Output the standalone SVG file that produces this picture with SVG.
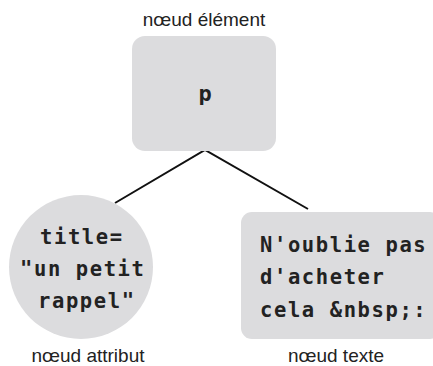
<svg xmlns="http://www.w3.org/2000/svg" width="433" height="366" viewBox="0 0 433 366">
<style>
.shape{fill:#dcdcde;stroke:none}
.lbl{font-family:"Liberation Sans",Arial,sans-serif;font-size:19px;fill:#222;text-anchor:middle}
.code{font-family:"DejaVu Sans Mono",monospace;font-weight:bold;font-size:20.5px;fill:#222;letter-spacing:1.6px}
.edge{stroke:#111;stroke-width:2;fill:none}
</style>
<rect width="433" height="366" fill="#fff"/>
<g id="connectors">
<polyline class="edge" points="115,203 205,150 308,209"/>
</g>
<g id="element">
<text class="lbl" x="204" y="26">nœud élément</text>
<rect class="shape" x="132" y="36" width="144" height="115" rx="13"/>
<text class="code" x="205" y="101" text-anchor="middle" style="font-size:22px;letter-spacing:0">p</text>
</g>
<g id="attribut">
<circle class="shape" cx="81" cy="267" r="72"/>
<text class="code" x="40" y="244">title=</text>
<text class="code" x="20" y="276">"un petit</text>
<text class="code" x="38" y="308">rappel"</text>
<text class="lbl" x="88" y="362">nœud attribut</text>
</g>
<g id="texte">
<rect class="shape" x="241" y="212" width="200" height="127" rx="11"/>
<text class="code" x="260" y="252">N'oublie pas</text>
<text class="code" x="260" y="284">d'acheter</text>
<text class="code" x="260" y="317">cela &amp;nbsp;:</text>
<text class="lbl" x="336" y="362">nœud texte</text>
</g>
</svg>
